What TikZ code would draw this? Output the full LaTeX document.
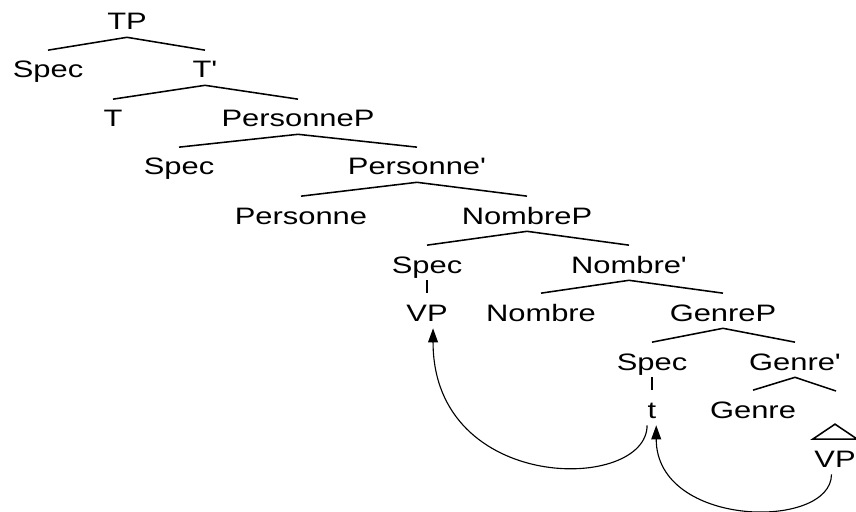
\documentclass[tikz,border=0pt]{standalone}
\usepackage{fontspec}
\newfontfamily\treefont{Liberation Sans}[FakeStretch=1.3]
\usepackage{tikz}
\usetikzlibrary{calc,arrows.meta}

\begin{document}
\begin{tikzpicture}[x=0.025cm, y=-0.025cm,
    lab/.style={anchor=base, inner xsep=1pt, inner ysep=5pt, text height=14.6pt, text depth=0pt,
        font=\treefont\fontsize{16.9}{20}\selectfont},
    branch/.style={line width=1.1pt},
    move/.style={line width=0.8pt, -{Triangle[length=10pt, width=7pt]}}]
    \useasboundingbox (0,0) rectangle (856,512);

    \node[lab] (tp) at (127, 30) {TP};

    \node[lab] (spec1) at (48, 78) {Spec};
    \node[lab] (tbar) at (205, 78) {T'};

    \node[lab] (t) at (113, 127) {T};
    \node[lab] (personnep) at (298, 127) {PersonneP};

    \node[lab] (spec2) at (179, 175) {Spec};
    \node[lab] (personnebar) at (417, 175) {Personne'};

    \node[lab] (personne) at (301, 224) {Personne};
    \node[lab] (nombrep) at (527, 224) {NombreP};

    \node[lab] (spec3) at (427, 273) {Spec};
    \node[lab] (nombrebar) at (629, 273) {Nombre'};

    \node[lab] (vp1) at (427, 321) {VP};
    \node[lab] (nombre) at (541, 321) {Nombre};
    \node[lab] (genrep) at (723, 321) {GenreP};

    \node[lab] (spec4) at (652, 370) {Spec};
    \node[lab] (genrebar) at (795, 370) {Genre'};

    \node[lab] (trace) at (652, 418) {t};
    \node[lab] (genre) at (753, 418) {Genre};
    \coordinate (gright) at (836, 391);

    \node[lab] (vp2) at (835, 467) {VP};

    \draw[branch] (tp.south) to (spec1.north);
    \draw[branch] (tp.south) to (tbar.north);
    \draw[branch] (tbar.south) to (t.north);
    \draw[branch] (tbar.south) to (personnep.north);
    \draw[branch] (personnep.south) to (spec2.north);
    \draw[branch] (personnep.south) to (personnebar.north);
    \draw[branch] (personnebar.south) to (personne.north);
    \draw[branch] (personnebar.south) to (nombrep.north);
    \draw[branch] (nombrep.south) to (spec3.north);
    \draw[branch] (nombrep.south) to (nombrebar.north);
    \draw[branch] (spec3.south) to (vp1.north);
    \draw[branch] (nombrebar.south) to (nombre.north);
    \draw[branch] (nombrebar.south) to (genrep.north);
    \draw[branch] (genrep.south) to (spec4.north);
    \draw[branch] (genrep.south) to (genrebar.north);
    \draw[branch] (spec4.south) to (trace.north);
    \draw[branch] (genrebar.south) to (genre.north);
    \draw[branch] (genrebar.south) to (gright);
    \draw[branch] (vp2.north west) -- ($(vp2.north)+(0,-15)$) -- (vp2.north east) -- cycle;

    \draw[move] ([xshift=-3.5pt]trace.south) .. controls +(0,67) and +(0,166) .. ([xshift=4.3pt]vp1.south);
    \draw[move] ([xshift=-2.5pt]vp2.south) .. controls +(0,56) and +(0,103) .. ([xshift=3pt]trace.south);
\end{tikzpicture}
\end{document}
